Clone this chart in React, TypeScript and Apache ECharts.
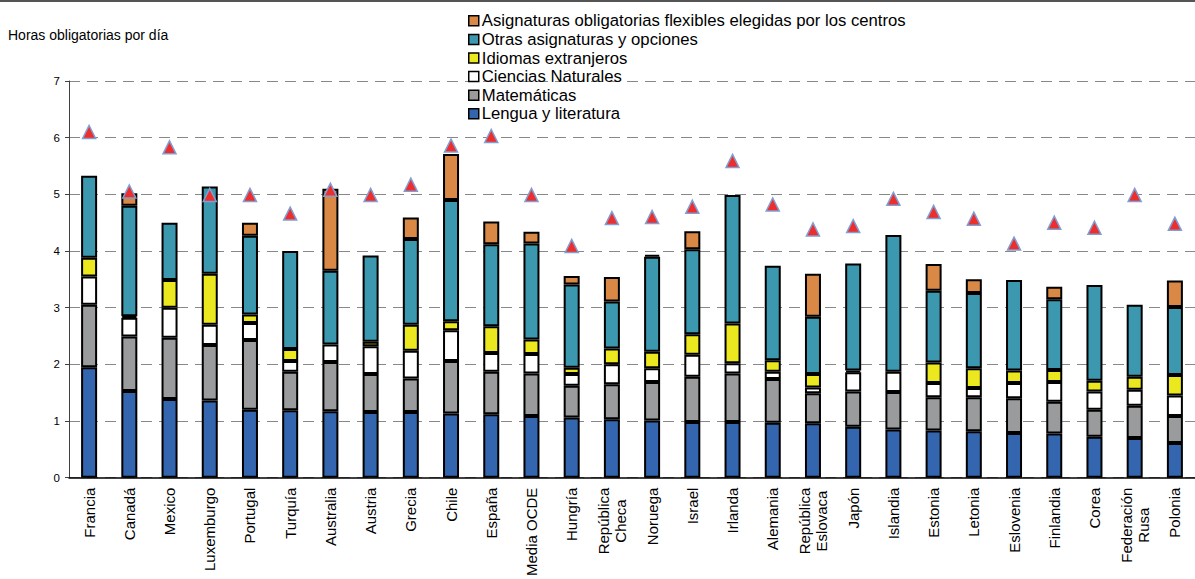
import React, { useEffect, useRef } from "react";
import * as echarts from "echarts";

const categories = [
  "Francia", "Canadá", "Mexico", "Luxemburgo", "Portugal", "Turquía", "Australia",
  "Austria", "Grecia", "Chile", "España", "Media OCDE", "Hungría", "República\nCheca",
  "Noruega", "Israel", "Irlanda", "Alemania", "República\nEslovaca", "Japón", "Islandia",
  "Estonia", "Letonia", "Eslovenia", "Finlandia", "Corea", "Federación\nRusa", "Polonia",
];

const lengua = [1.95, 1.53, 1.39, 1.36, 1.2, 1.19, 1.17, 1.16, 1.16, 1.13, 1.12, 1.09, 1.06, 1.03, 1.01, 0.98, 0.98, 0.97, 0.96, 0.9, 0.85, 0.83, 0.82, 0.79, 0.78, 0.72, 0.7, 0.61];
const matematicas = [1.1, 0.96, 1.08, 0.98, 1.23, 0.68, 0.87, 0.67, 0.59, 0.93, 0.75, 0.75, 0.56, 0.62, 0.68, 0.8, 0.86, 0.77, 0.53, 0.62, 0.66, 0.59, 0.6, 0.61, 0.56, 0.48, 0.57, 0.48];
const ciencias = [0.5, 0.33, 0.53, 0.36, 0.3, 0.19, 0.31, 0.49, 0.49, 0.54, 0.33, 0.34, 0.21, 0.35, 0.24, 0.39, 0.18, 0.13, 0.1, 0.34, 0.36, 0.25, 0.16, 0.27, 0.35, 0.32, 0.28, 0.36];
const idiomas = [0.33, 0.03, 0.49, 0.9, 0.15, 0.21, null, 0.08, 0.46, 0.16, 0.47, 0.26, 0.11, 0.28, 0.29, 0.36, 0.7, 0.2, 0.24, 0.03, null, 0.36, 0.35, 0.22, 0.21, 0.19, 0.23, 0.36];
const otras = [1.45, 1.95, 1.01, 1.54, 1.39, 1.73, 1.3, 1.52, 1.51, 2.14, 1.45, 1.69, 1.47, 0.83, 1.68, 1.5, 2.27, 1.67, 1.01, 1.89, 2.41, 1.27, 1.33, 1.6, 1.25, 1.69, 1.27, 1.2];
const flexibles = [null, 0.22, null, null, 0.23, null, 1.45, null, 0.38, 0.81, 0.4, 0.21, 0.15, 0.43, 0.03, 0.32, null, null, 0.76, null, null, 0.47, 0.24, null, 0.22, null, null, 0.47];
const marcador = [6.1, 5.05, 5.83, 4.99, 4.99, 4.66, 5.08, 4.99, 5.17, 5.86, 6.03, 4.99, 4.09, 4.58, 4.6, 4.78, 5.59, 4.82, 4.38, 4.44, 4.92, 4.69, 4.57, 4.13, 4.5, 4.41, 4.99, 4.48];
const yTicks = [0, 1, 2, 3, 4, 5, 6, 7];

const seriesDefs = [
  { name: "Lengua y literatura", data: lengua, color: "#3466AF" },
  { name: "Matemáticas", data: matematicas, color: "#999B9C" },
  { name: "Ciencias Naturales", data: ciencias, color: "#FFFFFF" },
  { name: "Idiomas extranjeros", data: idiomas, color: "#ECE81F" },
  { name: "Otras asignaturas y opciones", data: otras, color: "#3C98AE" },
  { name: "Asignaturas obligatorias flexibles elegidas por los centros", data: flexibles, color: "#D98845" },
];

const FONT = "'Liberation Sans', Arial, sans-serif";

export default function App() {
  const ref = useRef<HTMLDivElement>(null);
  useEffect(() => {
    if (!ref.current) return;
    const chart = echarts.init(ref.current, null, { renderer: "svg" });
    const option: any = {
      animation: false,
      backgroundColor: "#ffffff",
      textStyle: { fontFamily: FONT, color: "#000" },
      grid: { left: 69, right: -6, top: 81, bottom: 98, containLabel: false },
      legend: {
        orient: "vertical",
        left: 468,
        top: 11.5,
        padding: 0,
        itemWidth: 10,
        itemHeight: 10,
        itemGap: 0,
        icon: "rect",
        selectedMode: false,
        data: seriesDefs.map((s) => s.name).reverse(),
        itemStyle: { borderColor: "#000", borderWidth: 1.5 },
        textStyle: { fontFamily: FONT, fontSize: 16.7, color: "#000", lineHeight: 18.6, padding: [0, 0, 0, -2] },
      },
      graphic: [
        { type: "rect", left: 0, top: 0, shape: { x: 0, y: 0, width: 1195, height: 2 }, style: { fill: "#555" } },
        {
          type: "text",
          left: 8,
          top: 28,
          style: { text: "Horas obligatorias por día", font: `14px ${FONT}`, fill: "#000" },
        },
      ],
      xAxis: {
        type: "category",
        data: categories,
        axisLine: { show: true, lineStyle: { color: "#000", width: 1.5 } },
        axisTick: { show: false },
        axisLabel: {
          interval: 0,
          rotate: 90,
          margin: 10,
          color: "#000",
          fontFamily: FONT,
          fontSize: 15,
          formatter: (v: string) => v.split("\n").map((l) => `{c|${l}}`).join("\n"),
          rich: { c: { align: "center", fontSize: 15, lineHeight: 17, fontFamily: FONT, color: "#000" } },
        },
      },
      yAxis: {
        type: "value",
        min: yTicks[0],
        max: yTicks[yTicks.length - 1],
        interval: 1,
        axisLine: { show: true, lineStyle: { color: "#404040", width: 1 } },
        axisTick: { show: true, length: 4, lineStyle: { color: "#404040" } },
        axisLabel: { color: "#000", fontSize: 11.5, fontFamily: FONT, margin: 9 },
        splitLine: { show: true, lineStyle: { color: "#888", type: [11, 7], width: 1 } },
      },
      series: [
        ...seriesDefs.map((s) => ({
          name: s.name,
          type: "bar",
          stack: "total",
          barWidth: 16,
          data: s.data,
          itemStyle: { color: s.color, borderColor: "#000", borderWidth: 2 },
        })),
        {
          name: "Total",
          type: "scatter",
          symbol: "triangle",
          symbolSize: 13,
          data: marcador,
          z: 10,
          itemStyle: { color: "#EE2D2D", borderColor: "#7F9ED2", borderWidth: 1.5, opacity: 1 },
        },
      ],
    };
    chart.setOption(option);
    return () => chart.dispose();
  }, []);
  return (
    <div
      ref={ref}
      style={{ position: "absolute", left: 0, top: 0, width: 1195, height: 579, background: "#fff" }}
    />
  );
}
